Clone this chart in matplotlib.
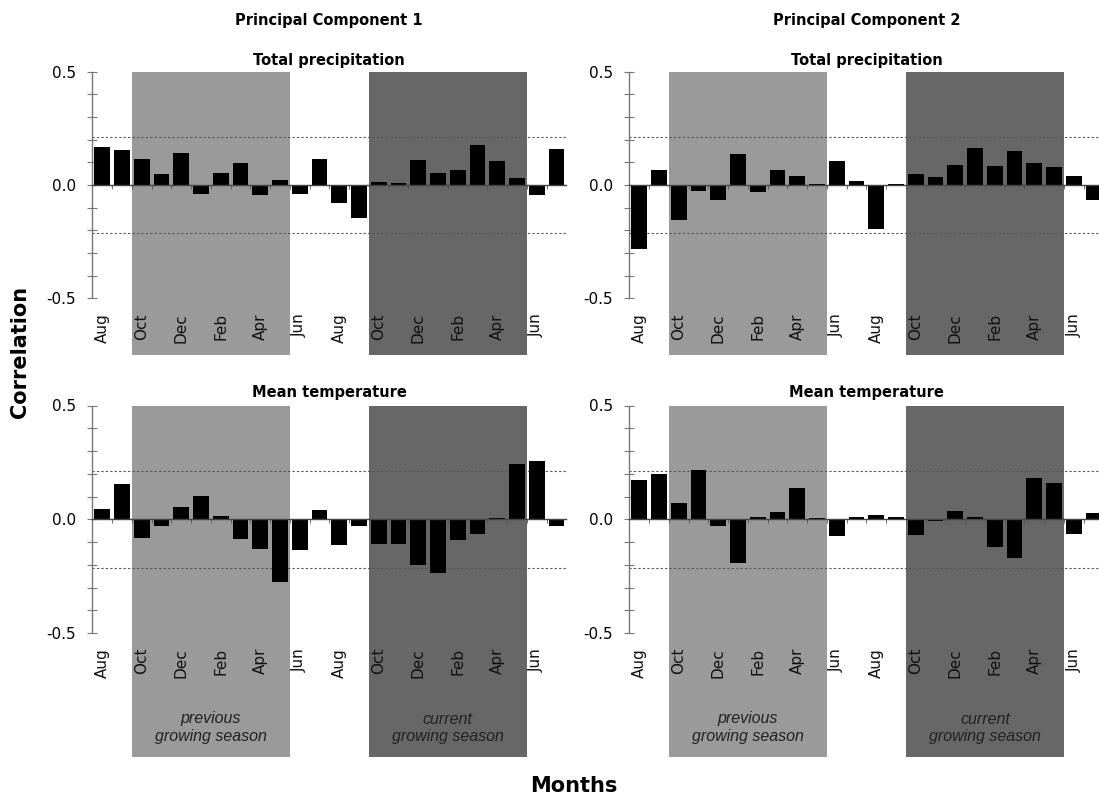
import matplotlib
matplotlib.use("Agg")
import matplotlib.pyplot as plt
import matplotlib.transforms as mtransforms
from matplotlib.patches import Rectangle
import numpy as np

months = ["Aug", "Sep", "Oct", "Nov", "Dec", "Jan", "Feb", "Mar", "Apr", "May", "Jun", "Jul",
          "Aug", "Sep", "Oct", "Nov", "Dec", "Jan", "Feb", "Mar", "Apr", "May", "Jun", "Jul"]

pc1_precip = [0.166, 0.156, 0.115, 0.047, 0.143, -0.041, 0.054, 0.097, -0.044, 0.024, -0.041, 0.113,
              -0.081, -0.144, 0.015, 0.007, 0.110, 0.051, 0.065, 0.176, 0.106, 0.029, -0.043, 0.160]
pc2_precip = [-0.283, 0.064, -0.156, -0.025, -0.066, 0.136, -0.032, 0.064, 0.038, 0.006, 0.106, 0.019,
              -0.195, 0.004, 0.047, 0.035, 0.087, 0.165, 0.085, 0.152, 0.098, 0.079, 0.039, -0.066]
pc1_temp = [0.044, 0.154, -0.082, -0.028, 0.054, 0.101, 0.016, -0.086, -0.129, -0.278, -0.137, 0.041,
            -0.113, -0.028, -0.110, -0.107, -0.202, -0.238, -0.091, -0.064, 0.004, 0.243, 0.256, -0.031]
pc2_temp = [0.173, 0.201, 0.073, 0.217, -0.028, -0.194, 0.010, 0.032, 0.136, 0.004, -0.075, 0.012,
            0.018, 0.010, -0.069, -0.009, 0.038, 0.012, -0.122, -0.170, 0.180, 0.161, -0.065, 0.028]

significance = 0.213
column_titles = ["Principal Component 1", "Principal Component 2"]
row_titles = ["Total precipitation", "Mean temperature"]
seasons = [(1.5, 9.5, "previous\ngrowing season"), (13.5, 21.5, "current\ngrowing season")]
season_colors = ["#9a9a9a", "#676767"]

W, H = 1099, 802
fig = plt.figure(figsize=(W / 100, H / 100), dpi=100)
plt.rcParams['font.family'] = ['DejaVu Sans']

col_x = [(92.3, 474.0), (629.3, 474.2)]
row_y = [(71.7, 226.6), (405.5, 227.5)]
shade_bottom_px = [355.5, 757.0]

data = [[pc1_precip, pc2_precip], [pc1_temp, pc2_temp]]
x = np.arange(len(months))

for r in range(2):
    for c in range(2):
        x0, w = col_x[c]
        y0, h = row_y[r]
        ax = fig.add_axes([x0 / W, 1 - (y0 + h) / H, w / W, h / H])
        ax.set_xlim(-0.5, len(months) - 0.5)
        ax.set_ylim(-0.5, 0.5)
        ax.patch.set_alpha(0)

        trans = mtransforms.blended_transform_factory(ax.transData, ax.transAxes)
        bot = -(shade_bottom_px[r] - (y0 + h)) / h
        for (s0, s1, lab), col in zip(seasons, season_colors):
            rect = Rectangle((s0, bot), s1 - s0, 1 - bot, transform=trans,
                             facecolor=col, edgecolor='none', zorder=0, clip_on=False)
            ax.add_patch(rect)
            if r == 1:
                ax.text((s0 + s1) / 2, -(728 - (y0 + h)) / h, lab, transform=trans,
                        ha='center', va='center', fontsize=11.5, style='italic',
                        family='Liberation Sans', color='#222222', linespacing=1.25)

        for yy in (significance, -significance):
            ax.axhline(yy, color='#555555', lw=0.8, ls=(0, (2, 2)), zorder=1)

        ax.bar(x, data[r][c], width=0.8, color='black', zorder=3)

        # axes styling
        for s in ('top', 'right'):
            ax.spines[s].set_visible(False)
        ax.spines['bottom'].set_position(('data', 0))
        ax.spines['bottom'].set_color('#444444')
        ax.spines['bottom'].set_linewidth(1.0)
        ax.spines['bottom'].set_zorder(4)
        ax.spines['left'].set_color('#777777')
        ax.spines['left'].set_linewidth(1.0)

        ax.set_xticks(np.arange(0.5, len(months) - 1, 1.0))
        ax.set_xticklabels([])
        ax.tick_params(axis='x', direction='out', length=3, width=0.6, color='#555555')

        ax.set_yticks([-0.5, 0.0, 0.5])
        ax.set_yticklabels(["-0.5", "0.0", "0.5"])
        ax.set_yticks(np.arange(-0.4, 0.45, 0.1), minor=True)
        ax.tick_params(axis='y', which='both', direction='inout', length=7, width=0.8,
                       color='#777777', labelsize=11, pad=8)

        for i in range(0, len(months), 2):
            ax.text(x[i], -15 / h, months[i], transform=trans, rotation=90,
                    ha='center', va='top', fontsize=11, color='#111111')

        ax.text(0.5, 1 + (11.5 if r == 0 else 12.5) / h, row_titles[r], transform=ax.transAxes,
                ha='center', va='center', fontsize=10.5, fontweight='bold')

for c in range(2):
    x0, w = col_x[c]
    fig.text((x0 + w / 2) / W, 1 - 20 / H, column_titles[c], ha='center', va='center',
             fontsize=10.5, fontweight='bold')

fig.text(20 / W, 1 - 352 / H, "Correlation", rotation=90, ha='center', va='center',
         fontsize=15, fontweight='bold')
fig.text(574 / W, 1 - 786 / H, "Months", ha='center', va='center',
         fontsize=15, fontweight='bold')

fig.savefig("out.png", dpi=100)
